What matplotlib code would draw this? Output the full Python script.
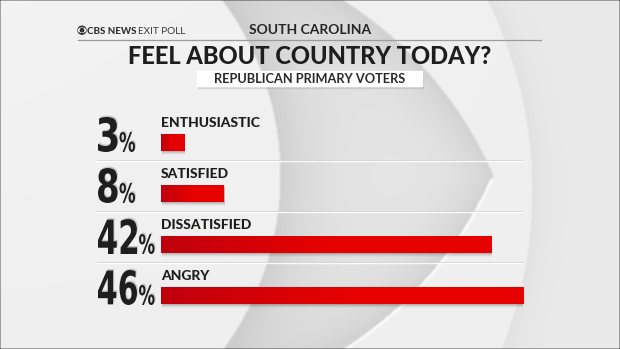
import numpy as np
import matplotlib
matplotlib.use("Agg")
import matplotlib.pyplot as plt
from matplotlib.patches import Rectangle, Circle, Ellipse, PathPatch
from matplotlib.textpath import TextPath
from matplotlib.font_manager import FontProperties
from matplotlib.transforms import Affine2D
from matplotlib.colors import LinearSegmentedColormap

# exit poll numbers
categories = ['ENTHUSIASTIC', 'SATISFIED', 'DISSATISFIED', 'ANGRY']
values     = [3, 8, 42, 46]

state    = 'SOUTH CAROLINA'
question = 'FEEL ABOUT COUNTRY TODAY?'
group    = 'REPUBLICAN PRIMARY VOTERS'

W, H = 620, 349
DARK = '#1e1e1e'


def make_background():
    yy, xx = np.mgrid[0:H, 0:W].astype(float)
    img = np.full((H, W), 0.935)
    img += 0.015 * (1 - xx / W) * (1 - yy / H)

    # pointed lens made from two big arcs meeting at the right
    dA = 390 - np.hypot(xx - 135, yy - 330)
    dB = 390 - np.hypot(xx - 135, yy - 20)
    lens = (dA > 0) & (dB > 0)
    # left disc edge
    dL = np.hypot(xx + 13, yy - 175) - 293
    band = lens & (dL > 0)
    edge = np.minimum(dA, dB)
    shade = 0.912 - 0.10 * np.exp(-dL / 45) - 0.09 * np.exp(-edge / 35)
    img[band] = shade[band]

    # large outer circle on the right
    dR = np.hypot(xx - 107, yy - 190) - 425
    outer = dR > 0
    img[outer] = (0.912 - 0.035 * np.exp(-dR / 12))[outer]

    # thin white highlight along the lower arc
    hl = (np.abs(dB) < 1.3) & (yy > 178)
    img[hl] = 0.99

    # soften edges a little
    k = np.ones(3) / 3
    img = np.apply_along_axis(lambda r: np.convolve(r, k, mode='same'), 1, img)
    img = np.apply_along_axis(lambda c: np.convolve(c, k, mode='same'), 0, img)
    return np.clip(img, 0, 1)


fig = plt.figure(figsize=(W / 100, H / 100), dpi=100)
renderer = fig.canvas.get_renderer()

# pixel space overlay for background and header
ax_pix = fig.add_axes([0, 0, 1, 1])
ax_pix.set_xlim(0, W)
ax_pix.set_ylim(H, 0)
ax_pix.axis('off')
ax_pix.imshow(make_background(), cmap='gray', vmin=0, vmax=1,
              extent=(0, W, H, 0), aspect='auto', interpolation='bilinear', zorder=0)

# header
ax_pix.plot([78, 541], [40, 40], color='#9c9c9c', lw=0.9, zorder=2)
ax_pix.add_patch(Circle((82, 30.2), 4.0, color='#333333', zorder=3))
ax_pix.add_patch(Ellipse((82, 30.2), 7.0, 4.2, color='white', zorder=4))
ax_pix.add_patch(Circle((82, 30.2), 1.7, color='#333333', zorder=5))
cbs = ax_pix.text(87, 34, 'CBS NEWS', fontsize=7.0, fontfamily='Lato', fontweight='black',
                  color='#333333', va='baseline', ha='left', zorder=5)
cbs_end = ax_pix.transData.inverted().transform(
    cbs.get_window_extent(renderer).corners()[-1])[0]
ax_pix.text(cbs_end + 1.5, 34, 'EXIT POLL', fontsize=7.2, fontfamily='Lato', fontweight='normal',
            color='#3a3a3a', va='baseline', ha='left', zorder=5)
ax_pix.text(310, 34.5, state, fontsize=10, fontfamily='Lato', fontweight='bold',
            color='#262626', va='baseline', ha='center', zorder=5)
ax_pix.text(310, 64, question, fontsize=17, fontfamily='Lato', fontweight='black',
            color=DARK, va='baseline', ha='center', zorder=5)
ax_pix.add_patch(Rectangle((198, 72.5), 225, 15, color='#b0b0b0', alpha=0.35, zorder=3))
ax_pix.add_patch(Rectangle((197, 71), 225, 15, color='white', zorder=4))
ax_pix.text(310, 83, group, fontsize=9.2, fontfamily='Lato', fontweight='bold',
            color='#2a2a2a', va='baseline', ha='center', zorder=5)

# bar panel: 7.87 px per percentage point, rows 51 px apart
px_per_pct = 7.87
row_px = 51
n = len(categories)
bar_left, bar_top = 161, 117
ax = fig.add_axes([bar_left / W, 1 - (bar_top + n * row_px) / H,
                   max(values) * px_per_pct / W, n * row_px / H])
ax.set_xlim(0, max(values))
ax.set_ylim(n - 0.5, -0.5)
ax.axis('off')
ax.patch.set_alpha(0)

bar_h = 17 / row_px
bars = ax.barh(range(n), values, height=bar_h, color='#e20000', zorder=3)

grad = np.linspace(0, 1, 200)
grad = np.clip(grad / 0.5, 0, 1)[None, :]
red_cmap = LinearSegmentedColormap.from_list('reds', ['#bf000e', '#e60000'])

px_y = 1 / row_px
for b in bars:
    x0, y0, w, h = b.get_x(), b.get_y(), b.get_width(), b.get_height()
    # soft shadow under each bar
    for k, a in zip([1, 2, 3, 4], [0.10, 0.08, 0.05, 0.03]):
        ax.add_patch(Rectangle((x0 + 0.1, y0 + k * px_y), w, h, color='black',
                               alpha=a, lw=0, zorder=2))
    im = ax.imshow(grad, cmap=red_cmap, vmin=0, vmax=1, aspect='auto',
                   extent=(x0, x0 + w, y0 + h, y0), zorder=4, interpolation='bilinear')
    im.set_clip_path(b)

ax.set_xlim(0, max(values))
ax.set_ylim(n - 0.5, -0.5)

# separators between rows
sep_x0 = (97 - bar_left) / px_per_pct
for i in range(n - 1):
    ax.plot([sep_x0, max(values)], [i + 18.5 * px_y] * 2, color='#ffffff',
            lw=1.0, alpha=0.9, zorder=1, clip_on=False)
    ax.plot([sep_x0, max(values)], [i + 17.5 * px_y] * 2, color='#cfcfcf',
            lw=0.6, alpha=0.8, zorder=1, clip_on=False)

# category names above bars
for i, name in enumerate(categories):
    ax.text(0, i - 15.5 * px_y, name, fontsize=10, fontfamily='Lato', fontweight='black',
            color=DARK, va='baseline', ha='left', zorder=5)

# big condensed percentages
num_prop = FontProperties(family='DejaVu Sans', weight='bold')


def path_text(s, x_left, y_bottom, height, width, color=DARK, z=6):
    tp = TextPath((0, 0), s, size=100, prop=num_prop)
    ext = tp.get_extents()
    sx, sy = width / ext.width, height / ext.height
    tr = Affine2D().translate(-ext.x0, -ext.y0).scale(sx, -sy).translate(x_left, y_bottom)
    shadow = PathPatch(tp, transform=tr + Affine2D().translate(1, -1.5) + ax_pix.transData,
                       color='black', alpha=0.18, lw=0, zorder=z - 1)
    ax_pix.add_patch(shadow)
    ax_pix.add_patch(PathPatch(tp, transform=tr + ax_pix.transData, color=color, lw=0, zorder=z))


for i, v in enumerate(values):
    disp = ax.transData.transform((0, i))
    cy = H - disp[1]
    digits = str(v)
    dw = 19.5 * len(digits)
    path_text(digits, 98, cy + 9.5, 35, dw)
    path_text('%', 98 + dw + 2, cy + 9.5, 20, 15.5)

fig.savefig('out.png', dpi=100)
